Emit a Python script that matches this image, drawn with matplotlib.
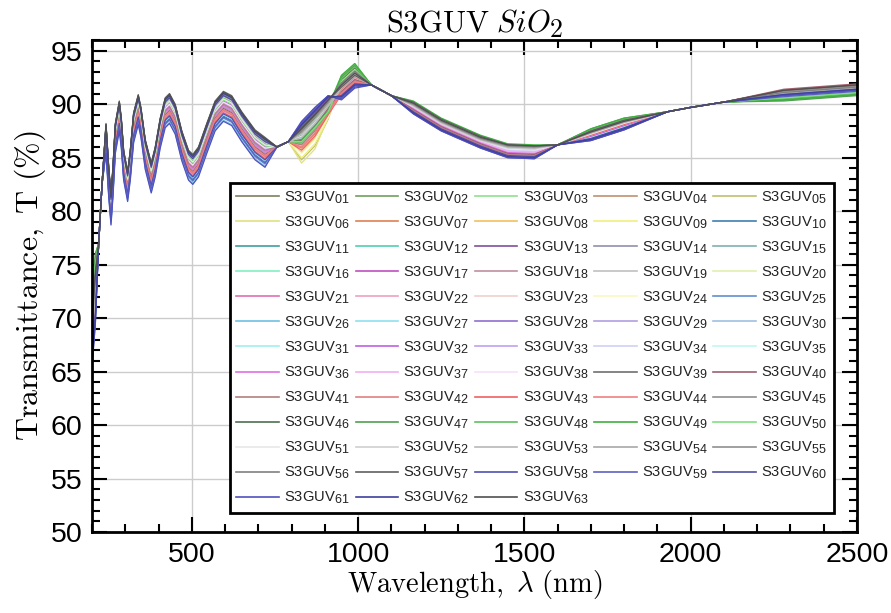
import matplotlib
matplotlib.use('Agg')
import matplotlib.pyplot as plt
import matplotlib._mathtext as mt
from matplotlib.ticker import MultipleLocator

plt.rcParams['font.family'] = ['Liberation Sans', 'DejaVu Sans']
plt.rcParams['mathtext.fontset'] = 'cm'
mt.SHRINK_FACTOR = 0.85  # subscripts in the original are larger than mathtext's default

# mean curve (wavelength nm, T %), with the group each knot belongs to
wl = [200, 210, 220, 230, 242, 250, 257, 263, 270, 282, 288, 295, 307, 315, 325, 339,
      347, 360, 378, 390, 405, 420, 433, 450, 470, 490, 503, 520, 545, 570, 595, 620,
      650, 690, 720, 756, 790, 830, 870, 910, 950, 990, 1040, 1100, 1166, 1250, 1368,
      1450, 1530, 1600, 1700, 1800, 1931, 2000, 2100, 2280, 2500]
base = [68.0, 72.0, 77.0, 82.5, 87.5, 83.5, 80.8, 83.5, 87.5, 89.6, 88.0, 85.0, 83.0, 85.0, 88.5, 90.2,
        89.0, 86.0, 83.8, 85.3, 88.0, 89.9, 90.3, 89.3, 86.8, 85.0, 84.6, 85.3, 87.5, 89.6, 90.5, 90.1,
        88.6, 86.9, 86.2, 86.0, 86.5, 87.0, 88.3, 89.8, 91.4, 92.5, 91.8, 90.8, 89.8, 88.2, 86.6,
        86.0, 85.9, 86.2, 87.2, 88.2, 89.3, 89.7, 90.2, 91.0, 91.5]
grp = ['s', 's', '', '', 'u', 'u', 'u', 'u', 'u', 'u', 'u', 'u', 'u', 'u', 'u', 'u',
       'u', 'u', 'u', 'u', 'u', 'u', 'u', 'u', 'u', 'u', 'u', 'u', 'u', 'u', 'u', 'u',
       'u', 'u', 'u', '', '', 'b', 'b', 'c', 'p', 'p', '', '', 'v', 'v', 'v',
       'd', 'd', '', 'w', 'w', '', '', '', 'e', 'e']

# per-sample deviations from the mean curve, estimated from the spread of the lines
s_dev = [2.0, 4.0, 3.5, 1.0, 0.5, 2.5, -0.5, 1.5, 0.0, -1.5,
         -1.0, 3.0, -0.5, 0.5, 1.0, 2.0, -1.0, 0.0, 1.5, 2.5,
         -0.5, 0.5, 1.0, 2.0, -2.0, -1.5, -1.0, -0.5, 0.0, -1.0,
         -2.0, 0.5, 1.0, 1.5, 0.5, 0.0, 1.0, 2.0, 3.0, 1.5,
         1.0, 0.0, -0.5, 0.5, 2.0, 3.5, 4.0, 3.0, 2.5, 3.0,
         1.0, 0.5, 0.0, 1.0, 1.5, 2.0, 2.5, -2.0, -2.5, -1.5,
         -2.5, -2.0, 2.0]
u_dev = [0.5, 0.4, 0.1, -0.4, -0.2, -0.6, -0.9, -0.5, -0.7, -1.6,
         -1.2, -0.3, 0.2, -0.8, -0.6, -0.4, 0.0, -0.5, -0.3, -0.2,
         -0.8, -1.0, -0.6, -0.1, -1.8, -2.0, -1.5, 0.1, -0.7, -1.1,
         -1.3, -0.2, -0.4, -0.5, -0.9, -0.6, -1.2, -0.3, 0.4, -0.9,
         -0.5, -1.1, -1.3, -1.0, 0.2, 0.6, 0.3, 0.1, 0.4, -0.1,
         0.0, 0.2, 0.3, 0.5, 0.4, 0.6, 0.7, -1.4, -1.7, 0.3,
         -2.1, 0.5, 0.6]
b_dev = [0.3, -0.5, -0.8, -0.2, -2.2, -2.5, -0.9, -1.5, -2.0, 0.6,
         0.2, -0.6, 0.9, 0.4, 0.0, -1.0, 0.8, -0.3, -0.4, -1.2,
         -0.7, -0.5, -0.9, -1.6, 0.7, 0.1, -0.2, 1.1, 0.5, 0.3,
         -0.1, 0.9, 0.6, 0.4, 0.0, 0.5, -0.3, -0.6, 0.2, -0.4,
         -0.8, -1.1, -1.3, -1.0, 0.1, 0.4, -0.3, -0.6, 0.3, -0.5,
         0.0, 0.2, -0.1, 0.3, 0.5, 0.6, 0.8, 1.3, 1.2, 1.0,
         1.4, 1.1, 0.7]
c_dev = [0.3, -0.4, -0.6, 0.0, -1.2, -1.0, -0.5, -0.8, -1.1, 0.6,
         0.4, -0.3, 0.8, 0.2, 0.1, -0.7, 0.7, -0.2, -0.3, -0.9,
         -0.4, -0.3, -0.6, -1.0, 0.8, 0.3, 0.0, 0.9, 0.4, 0.5,
         0.1, 0.7, 0.5, 0.2, -0.1, 0.4, -0.2, -0.5, 0.3, -0.2,
         -0.5, -0.7, -0.8, -0.6, 0.2, 0.1, -0.4, -0.6, 0.0, -0.5,
         0.1, 0.2, 0.0, 0.2, 0.4, 0.5, 0.6, 1.0, 0.9, 0.8,
         1.0, 0.9, 0.6]
p_dev = [0.6, 1.2, 1.3, 0.2, 0.8, 0.9, -0.3, 0.4, 0.7, -0.6,
         -0.2, 0.5, -0.4, -0.1, 0.3, 0.6, -0.5, 0.1, 0.0, 0.8,
         -0.3, 0.2, 0.3, 0.9, -0.7, -0.4, 0.1, -0.8, -0.2, -0.5,
         0.0, -0.6, -0.3, -0.1, 0.2, -0.4, 0.1, 0.4, 0.5, -0.2,
         -0.3, 0.0, -0.5, -0.4, 0.3, 0.9, 1.1, 1.0, 1.3, 0.7,
         0.2, 0.4, 0.1, 0.3, 0.5, 0.6, 0.2, -0.9, -0.8, -0.6,
         -1.0, -0.7, 0.4]
v_dev = [0.2, 0.3, 0.1, -0.3, 0.0, -0.2, -0.4, -0.1, 0.0, -0.2,
         0.3, 0.4, -0.1, 0.0, 0.2, 0.3, -0.2, -0.3, 0.0, 0.2,
         -0.4, -0.3, -0.2, 0.1, -0.3, 0.0, 0.1, -0.5, -0.2, -0.1,
         0.1, -0.4, -0.3, 0.0, 0.2, -0.2, -0.1, 0.0, 0.3, -0.3,
         -0.4, -0.5, -0.6, -0.5, 0.2, 0.4, 0.3, 0.4, 0.5, 0.3,
         0.1, 0.0, 0.2, 0.1, 0.3, 0.2, 0.4, -0.6, -0.7, -0.5,
         -0.7, -0.6, 0.3]
d_dev = [0.2, 0.1, 0.0, -0.6, -0.2, -0.3, -0.8, -0.4, -0.3, -0.5,
         0.1, 0.2, -0.2, -0.1, 0.0, 0.1, -0.4, -0.5, -0.2, 0.0,
         -0.7, -0.6, -0.4, -0.1, -0.6, -0.3, -0.2, -0.8, -0.5, -0.4,
         -0.1, -0.7, -0.6, -0.3, 0.0, -0.5, -0.4, -0.2, 0.1, -0.6,
         -0.7, -0.8, -0.9, -0.8, 0.0, 0.2, 0.1, 0.2, 0.3, 0.1,
         0.0, -0.1, 0.1, 0.0, 0.2, 0.1, 0.2, -0.9, -1.0, -0.8,
         -1.0, -0.9, 0.2]
w_dev = [0.1, 0.3, 0.2, -0.2, 0.0, -0.1, -0.3, 0.0, -0.1, -0.4,
         0.0, 0.2, -0.3, -0.2, 0.1, 0.2, -0.2, -0.1, 0.0, 0.1,
         -0.1, 0.0, -0.2, 0.1, -0.5, -0.3, -0.2, -0.4, -0.2, -0.3,
         -0.3, -0.2, -0.1, 0.0, 0.1, 0.0, -0.1, 0.1, 0.2, 0.0,
         0.1, 0.0, -0.1, 0.0, 0.2, 0.4, 0.5, 0.4, 0.5, 0.3,
         0.0, 0.1, 0.2, 0.1, 0.2, 0.3, 0.3, -0.6, -0.5, -0.4,
         -0.6, -0.5, 0.2]
e_dev = [0.2, -0.4, -0.6, 0.1, -0.3, -0.5, 0.0, -0.2, -0.4, -0.1,
         -0.2, -0.5, 0.1, 0.0, -0.3, -0.4, 0.2, 0.1, -0.1, -0.3,
         0.0, -0.1, -0.2, -0.5, -0.3, -0.2, -0.4, 0.2, -0.1, -0.3,
         -0.4, 0.1, 0.0, -0.2, -0.3, 0.1, -0.1, 0.0, 0.3, 0.4,
         0.2, 0.1, 0.3, 0.2, 0.0, -0.6, -0.7, -0.5, -0.6, -0.4,
         0.0, -0.1, 0.1, 0.0, 0.2, 0.1, 0.3, -0.2, -0.3, -0.1,
         -0.2, -0.1, 0.3]

colors = ['#7f7f60', '#6fa060', '#90e090', '#c09070', '#c0c070',
          '#e0e080', '#e08050', '#f0c060', '#f0f080', '#4080b0',
          '#40a0a0', '#50d0b0', '#8050a0', '#9090b0', '#80b0b0',
          '#80f0c0', '#c050c0', '#c090a0', '#c0c0c0', '#e0f0b0',
          '#e070b0', '#f0a0c0', '#f0d0d0', '#f8f8c0', '#6090d0',
          '#70c0e0', '#90e0f0', '#9070d0', '#b0a0e0', '#a0c0e0',
          '#a0f0f0', '#c060e0', '#c0a0f0', '#d0d0f8', '#c0f8f0',
          '#e070e0', '#f0b0f0', '#f8e0f8', '#707070', '#a06070',
          '#b08080', '#e08080', '#f06060', '#f08080', '#909090',
          '#507050', '#50a050', '#60c060', '#40b040', '#80e080',
          '#e8e8e8', '#d0d0d0', '#b8b8b8', '#a8a8a8', '#909090',
          '#808080', '#606060', '#5050b0', '#6060c0', '#5050a0',
          '#5050c0', '#4040a0', '#505050']

names = ['S3GUV$_{\\mathregular{%02d}}$' % (i + 1) for i in range(63)]

devs = {'s': s_dev, 'u': u_dev, 'b': b_dev, 'c': c_dev, 'p': p_dev,
        'v': v_dev, 'd': d_dev, 'w': w_dev, 'e': e_dev}

fig = plt.figure(figsize=(8.91, 6.13), dpi=100)
ax = fig.add_axes([0.1033, 0.1321, 0.8585, 0.8026])

lines = []
for k in range(63):
    t = []
    for i in range(len(wl)):
        g = grp[i]
        t.append(base[i] + (devs[g][k] if g else 0.0))
    ln, = ax.plot(wl, t, color=colors[k], lw=0.9, label=names[k])
    lines.append(ln)

ax.set_xlim(200, 2500)
ax.set_ylim(50, 96)
ax.xaxis.set_major_locator(MultipleLocator(500))
ax.xaxis.set_minor_locator(MultipleLocator(100))
ax.yaxis.set_minor_locator(MultipleLocator(1))
ax.set_yticks(range(50, 96, 5))
ax.grid(True, which='major', color='#cccccc', lw=1.0)
ax.tick_params(which='both', direction='in', top=True, right=True, width=1.5, colors='black')
ax.tick_params(which='major', length=11, labelsize=20.5, pad=7)
ax.tick_params(which='minor', length=6)
for s in ax.spines.values():
    s.set_linewidth(2)

ax.set_xlabel(r'$\mathrm{Wavelength,}\ \lambda\ \mathrm{(nm)}$', fontsize=20.5, labelpad=0)
ax.set_ylabel(r'$\mathrm{Transmittance,\ T\ (\%)}$', fontsize=23, labelpad=2)
ax.set_title(r'$\mathrm{S3GUV}\ SiO_2$', fontsize=22, pad=4)

# legend is read row by row in the picture, matplotlib fills column by column
order = []
for c in range(5):
    order += list(range(c, 63, 5))
leg = ax.legend([lines[i] for i in order], [names[i] for i in order], ncol=5,
                loc='lower right', bbox_to_anchor=(0.970, 0.0386), fontsize=10.6,
                frameon=True, fancybox=False, edgecolor='black', framealpha=1,
                handlelength=2.9, handletextpad=0.35, columnspacing=0.35,
                labelspacing=0.58, borderpad=0.45, borderaxespad=0)
leg.get_frame().set_linewidth(2)
for txt in leg.get_texts():
    txt.set_color('#222222')
for h in leg.get_lines():
    h.set_linewidth(1.2)

fig.savefig('out.png', dpi=100)
